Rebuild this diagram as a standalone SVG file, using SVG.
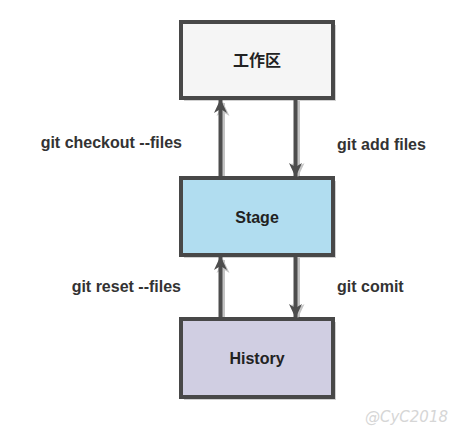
<svg xmlns="http://www.w3.org/2000/svg" width="473" height="434" viewBox="0 0 473 434">
<defs>
<style>
.box{stroke:#484848;stroke-width:4}
.shadow{fill:#000;opacity:0.18}
.lbl{font-family:"Liberation Sans",Arial,sans-serif;font-weight:bold;font-size:16px;fill:#333}
.edge{stroke:#4d4d4d;stroke-width:4;fill:none}
.eshadow{stroke:#c4c4c4;stroke-width:4;fill:none}
.title{font-family:"Liberation Sans","Noto Sans CJK SC",sans-serif;font-weight:bold;font-size:16px;fill:#222;text-anchor:middle}
</style>
<marker id="ah" viewBox="0 0 14 14" refX="13" refY="7" markerWidth="14" markerHeight="14" orient="auto" markerUnits="userSpaceOnUse">
<path d="M0,0.5 L14,7 L0,13.5 L4,7 Z" fill="#4d4d4d"/>
</marker>
<marker id="ahs" viewBox="0 0 14 14" refX="13" refY="7" markerWidth="14" markerHeight="14" orient="auto" markerUnits="userSpaceOnUse">
<path d="M0,0.5 L14,7 L0,13.5 L4,7 Z" fill="#c4c4c4"/>
</marker>
</defs>
<rect width="473" height="434" fill="#fff"/>
<g id="workspace">
<rect class="shadow" x="184" y="25" width="152" height="76"/>
<rect class="box" x="181" y="22" width="152" height="76" fill="#f5f5f5"/>
<text class="title" x="257" y="66">工作区</text>
</g>
<g id="stage">
<rect class="shadow" x="184" y="181" width="152" height="77"/>
<rect class="box" x="181" y="178" width="152" height="77" fill="#b1ddf0"/>
<text class="title" x="257" y="223">Stage</text>
</g>
<g id="history">
<rect class="shadow" x="184" y="322" width="152" height="78"/>
<rect class="box" x="181" y="319" width="152" height="78" fill="#d0cee2"/>
<text class="title" x="257" y="364">History</text>
</g>
<g id="connectors">
<line class="eshadow" x1="223" y1="176" x2="223" y2="103" marker-end="url(#ahs)"/>
<line class="eshadow" x1="298" y1="101" x2="298" y2="176" marker-end="url(#ahs)"/>
<line class="eshadow" x1="223" y1="317" x2="223" y2="260" marker-end="url(#ahs)"/>
<line class="eshadow" x1="298" y1="258" x2="298" y2="317" marker-end="url(#ahs)"/>
<line class="edge" x1="220.5" y1="176" x2="220.5" y2="100" marker-end="url(#ah)"/>
<line class="edge" x1="295.5" y1="100" x2="295.5" y2="176" marker-end="url(#ah)"/>
<line class="edge" x1="220.5" y1="317" x2="220.5" y2="257" marker-end="url(#ah)"/>
<line class="edge" x1="295.5" y1="257" x2="295.5" y2="317" marker-end="url(#ah)"/>
<text class="lbl" x="182" y="148" text-anchor="end">git checkout --files</text>
<text class="lbl" x="337" y="150">git add files</text>
<text class="lbl" x="181" y="292" text-anchor="end">git reset --files</text>
<text class="lbl" x="337" y="292">git comit</text>
</g>
<text x="365" y="422" font-family="DejaVu Sans,sans-serif" font-style="italic" font-size="15" fill="#d6d6d6">@CyC2018</text>
</svg>
